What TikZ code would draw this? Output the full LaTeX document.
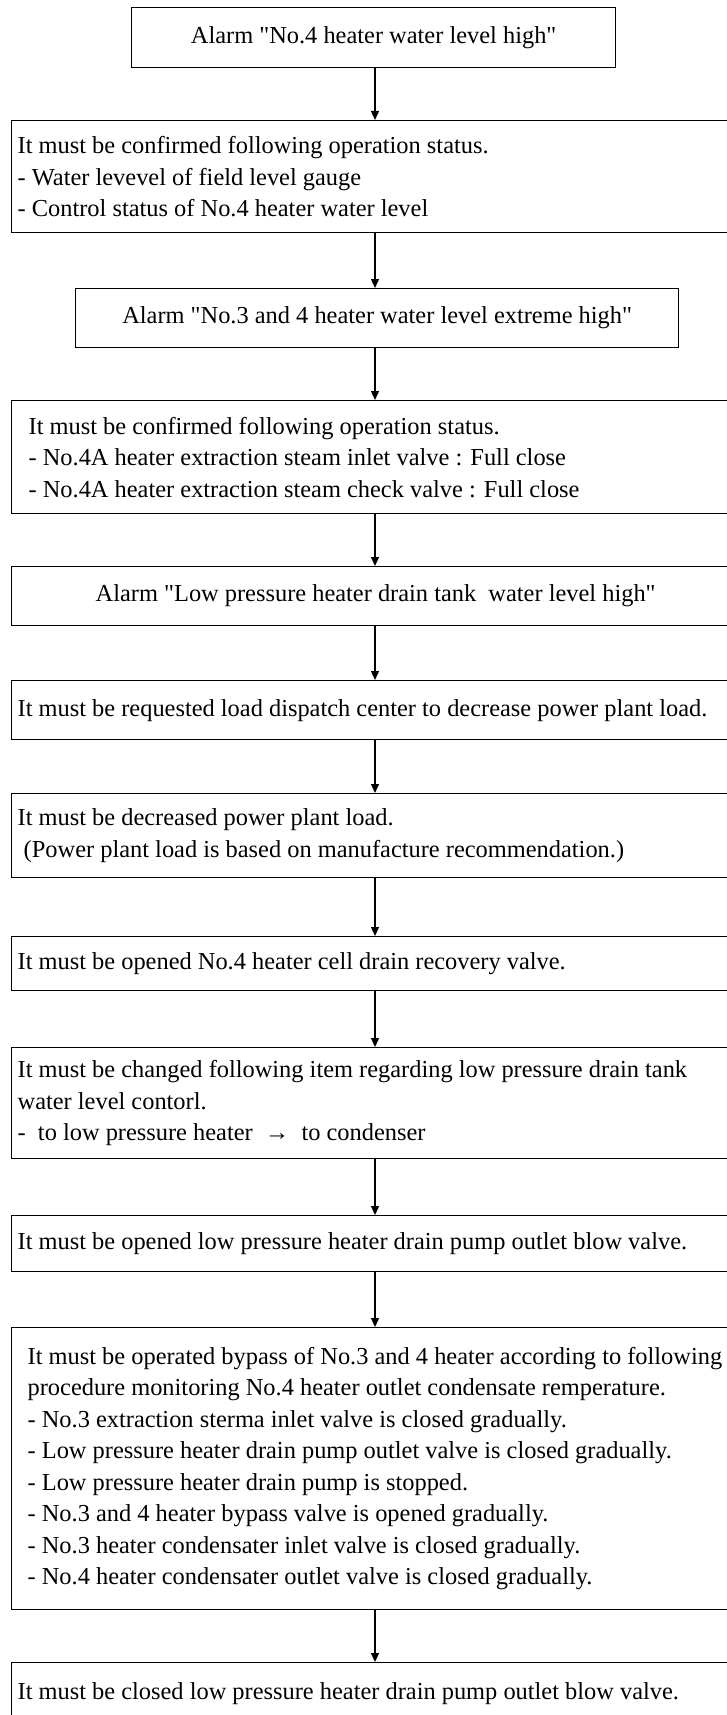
\documentclass[tikz,border=0pt]{standalone}
\usepackage{fontspec}
\setmainfont{Liberation Serif}[Ligatures=TeXOff]
\usetikzlibrary{arrows.meta}

\begin{document}
\begin{tikzpicture}[x=1pt,y=-1pt,font=\fontsize{24.4pt}{31.5pt}\selectfont,
  box/.style={draw,line width=1.3pt,inner sep=0pt,anchor=north west},
  alarmbox/.style={box,align=center},
  stepbox/.style={box,text width=760pt,align=left,inner xsep=#1,
    execute at begin node={\spaceskip=0pt\xspaceskip=0pt}},
  stepbox/.default=6pt,
  flow/.style={line width=1.3pt,-{Triangle[length=9pt,width=8pt]}}]
\clip (0,0) rectangle (727,1715);
\coordinate (axis) at (375,0);

% alarms and checks
\node[alarmbox,minimum width=484pt,minimum height=60pt] (b1) at (131,7)
  {Alarm "No.4 heater water level high"};
\node[stepbox,minimum height=112pt] (b2) at (11,120)
  {It must be confirmed following operation status.\\
   - Water levevel of field level gauge\\
   - Control status of No.4 heater water level};
\node[alarmbox,minimum width=603pt,minimum height=59pt] (b3) at (75,288)
  {Alarm "No.3 and 4 heater water level extreme high"};
\node[stepbox=17pt,minimum height=113pt] (b4) at (11,400)
  {It must be confirmed following operation status.\\
   - No.4A heater extraction steam inlet valve : Full close\\
   - No.4A heater extraction steam check valve : Full close};
\node[alarmbox,minimum width=728pt,minimum height=59pt] (b5) at (11,566)
  {Alarm "Low pressure heater drain tank~ water level high"};

% operator actions
\node[stepbox,minimum height=59pt] (b6) at (11,680)
  {It must be requested load dispatch center to decrease power plant load.};
\node[stepbox,minimum height=84pt] (b7) at (11,793)
  {It must be decreased power plant load.\\
   \hspace*{0.25em}(Power plant load is based on manufacture recommendation.)};
\node[stepbox,minimum height=54pt] (b8) at (11,936)
  {It must be opened No.4 heater cell drain recovery valve.};
\node[stepbox,minimum height=111pt] (b9) at (11,1047)
  {It must be changed following item regarding low pressure drain tank\\
   water level contorl.\\
   -~ to low pressure heater~ →~ to condenser};
\node[stepbox,minimum height=56pt] (b10) at (11,1215)
  {It must be opened low pressure heater drain pump outlet blow valve.};
\node[stepbox=16pt,minimum height=282pt] (b11) at (11,1327)
  {It must be operated bypass of No.3 and 4 heater according to following\\
   procedure monitoring No.4 heater outlet condensate remperature.\\
   - No.3 extraction sterma inlet valve is closed gradually.\\
   - Low pressure heater drain pump outlet valve is closed gradually.\\
   - Low pressure heater drain pump is stopped.\\
   - No.3 and 4 heater bypass valve is opened gradually.\\
   - No.3 heater condensater inlet valve is closed gradually.\\
   - No.4 heater condensater outlet valve is closed gradually.\par
   \vspace{12pt}};
\node[stepbox,minimum height=62pt] (b12) at (11,1662)
  {It must be closed low pressure heater drain pump outlet blow valve.};

\foreach \a/\b in {b1/b2,b2/b3,b3/b4,b4/b5,b5/b6,b6/b7,b7/b8,b8/b9,b9/b10,b10/b11,b11/b12}
  \draw[flow] (\a.south -| axis) -- (\b.north -| axis);

\end{tikzpicture}
\end{document}
